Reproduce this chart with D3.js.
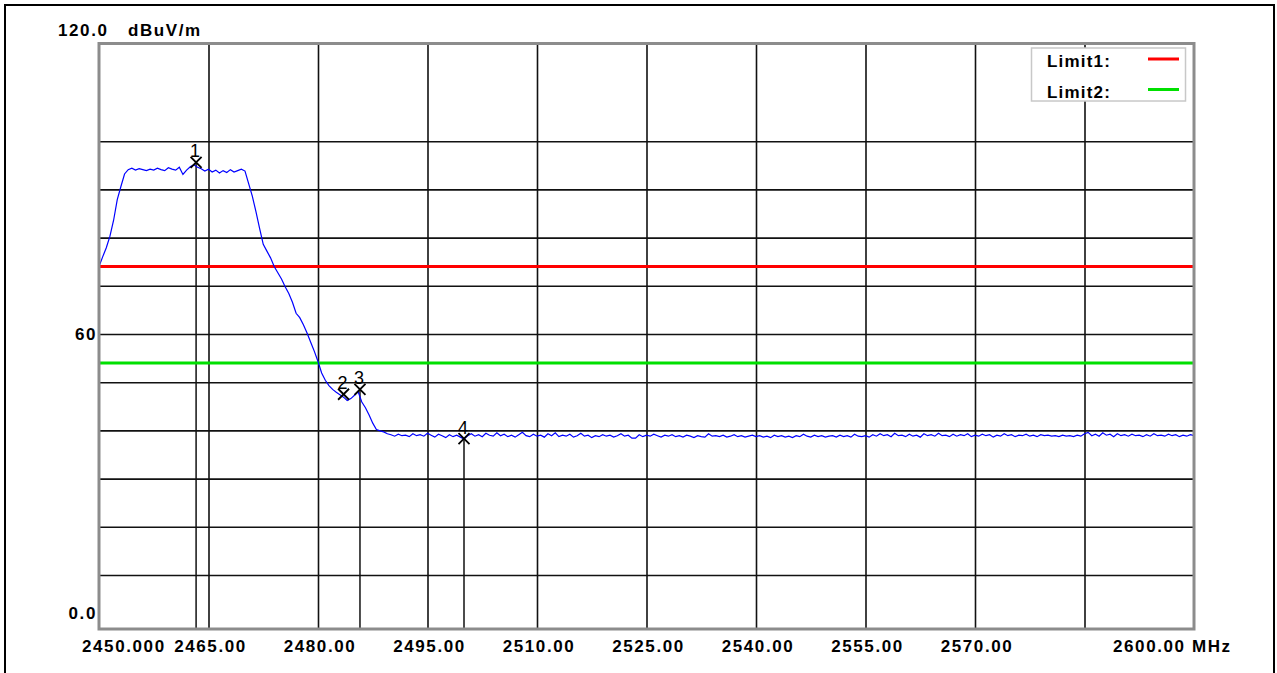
<!DOCTYPE html>
<html><head><meta charset="utf-8">
<script src="https://cdn.jsdelivr.net/npm/d3@7/dist/d3.min.js"></script>
<style>
body{margin:0;background:#fff}
svg{display:block}
text{font-family:"Liberation Sans",Arial,sans-serif;font-weight:bold;fill:#000}
</style>
</head><body>
<svg id="c" width="1277" height="673"></svg>
<script>
// ---------- data ----------
const xTicks = [2450,2465,2480,2495,2510,2525,2540,2555,2570,2585,2600];
const xTickLabels = ["2450.000","2465.00","2480.00","2495.00","2510.00","2525.00","2540.00","2555.00","2570.00","","2600.00 MHz"];
const yGrid = [10,20,30,40,50,60,70,80,90,100];
const yTickValues = [120,60,0];
const yTickLabels = ["120.0","60","0.0"];
const yUnit = "dBuV/m";
const limitNames = ["Limit1:","Limit2:"];
const limitValues = [74,54];
const limitColors = ["#ff0000","#00e000"];
const markerIds = ["1","2","3","4"];
const markerFreqs = [2463.3,2483.5,2485.75,2500.0];
const markerLevels = [95.6,47.5,48.5,38.3];
const markerHasLine = [true,false,true,true];
const trace = [
[2450,74.0],[2450.5,76.0],[2451,77.9],[2451.5,80.3],[2452,83.6],[2452.5,87.9],[2453,90.6],[2453.5,93.2],[2454,94.1],
[2454.5,94.4],[2455,94.0],[2455.5,94.3],[2456,94.1],[2456.5,93.9],[2457,94.2],[2457.5,94.0],[2458,94.4],[2458.5,94.1],
[2459,93.9],[2459.5,94.5],[2460,94.2],[2460.5,94.0],[2461,94.6],[2461.5,93.1],[2462,94.0],[2462.5,94.7],[2463,95.1],
[2463.5,94.6],[2464,94.3],[2464.5,93.8],[2465,94.2],[2465.5,93.6],[2466,94.0],[2466.5,93.4],[2467,93.9],[2467.5,93.5],
[2468,94.1],[2468.5,93.6],[2469,93.9],[2469.5,94.2],[2470,93.8],
[2470.5,91.2],[2471,88.6],[2471.5,85.4],[2472,81.9],[2472.5,78.6],[2473,77.2],[2473.5,75.8],[2474,74.0],[2474.5,72.7],
[2475,71.4],[2475.5,69.8],[2476,68.4],[2476.5,66.6],[2477,64.3],[2477.5,63.4],[2478,61.9],[2478.5,60.2],[2479,58.3],
[2479.5,56.4],[2480,54.3],[2480.5,51.9],[2481,50.4],[2481.5,49.3],[2482,48.5],[2482.5,47.9],[2483,47.4],[2483.5,46.9],
[2484,46.2],[2484.5,46.6],[2485,47.3],[2485.5,48.0],[2486,45.9],[2486.5,44.7],[2487,43.2],[2487.5,41.5],[2488,40.2],
[2488.5,39.9],[2489,39.7],
[2489.5,39.3],[2490,39.1],[2490.5,38.8],[2491,39.2],[2491.5,38.9],[2492,39.0],[2492.5,38.7],[2493,39.3],[2493.5,38.9],
[2494,39.1],[2494.5,38.8],[2495,39.4],[2495.5,39.0],[2496,38.6],[2496.5,39.2],[2497,38.9],[2497.5,38.5],[2498,39.1],
[2498.5,38.7],[2499,39.0],[2499.5,38.6],[2500,38.2],[2500.5,38.9],[2501,39.3],[2501.5,38.8],[2502,39.1],[2502.5,38.7],
[2503,39.4],[2503.5,39.0],[2504,38.8],[2504.5,39.5],[2505,38.9],[2505.5,39.2],[2506,38.7],[2506.5,39.0],[2507,38.6],
[2507.5,39.1],[2508,39.6],[2508.5,38.9],[2509,38.7],[2509.5,39.2],[2510,38.8],[2510.5,39.0],[2511,38.6],[2511.5,39.3],
[2512,38.9],[2512.5,39.5],[2513,38.7],[2513.5,39.0],[2514,38.8],[2514.5,39.2],[2515,38.6],[2515.5,38.9],[2516,39.4],
[2516.5,38.8],[2517,39.0],[2517.5,38.5],[2518,38.9],[2518.5,38.7],[2519,39.1],[2519.5,38.8],[2520,39.0],[2520.5,38.6],
[2521,38.9],[2521.5,39.3],[2522,38.8],[2522.5,39.0],[2523,38.4],[2523.5,38.4],[2524,39.1],[2524.5,38.7],[2525,39.0],
[2525.5,38.8],[2526,39.2],[2526.5,38.9],[2527,38.6],[2527.5,39.0],[2528,38.8],[2528.5,39.1],[2529,38.7],[2529.5,38.9],
[2530,38.6],[2530.5,39.0],[2531,38.8],[2531.5,38.5],[2532,38.9],[2532.5,38.7],[2533,38.6],[2533.5,39.3],[2534,38.8],
[2534.5,38.9],[2535,38.7],[2535.5,39.0],[2536,38.6],[2536.5,38.8],[2537,39.1],[2537.5,38.7],[2538,38.9],[2538.5,38.6],
[2539,38.8],[2539.5,39.0],[2540,38.7],[2540.5,38.9],[2541,38.6],[2541.5,38.8],[2542,38.5],[2542.5,39.0],[2543,38.7],
[2543.5,38.9],[2544,38.6],[2544.5,38.8],[2545,38.5],[2545.5,38.9],[2546,38.7],[2546.5,39.2],[2547,38.8],[2547.5,38.6],
[2548,39.0],[2548.5,38.7],[2549,38.9],[2549.5,38.6],[2550,38.8],[2550.5,38.9],[2551,38.6],[2551.5,39.0],[2552,38.7],
[2552.5,38.9],[2553,38.6],[2553.5,39.2],[2554,38.8],[2554.5,38.7],[2555,38.9],[2555.5,38.6],[2556,39.1],[2556.5,38.8],
[2557,39.3],[2557.5,38.9],[2558,39.1],[2558.5,38.7],[2559,39.4],[2559.5,38.9],[2560,39.0],[2560.5,38.7],[2561,39.2],
[2561.5,38.8],[2562,39.0],[2562.5,38.6],[2563,39.3],[2563.5,38.9],[2564,39.1],[2564.5,38.8],[2565,39.4],[2565.5,38.9],
[2566,39.0],[2566.5,38.7],[2567,39.2],[2567.5,38.8],[2568,39.1],[2568.5,38.9],[2569,39.3],[2569.5,38.7],[2570,39.0],
[2570.5,38.8],[2571,39.2],[2571.5,38.9],[2572,39.1],[2572.5,38.6],[2573,39.0],[2573.5,38.8],[2574,39.3],[2574.5,38.9],
[2575,39.1],[2575.5,38.7],[2576,39.0],[2576.5,38.9],[2577,39.2],[2577.5,38.8],[2578,39.0],[2578.5,38.7],[2579,39.1],
[2579.5,38.9],[2580,39.0],[2580.5,38.8],[2581,38.9],[2581.5,38.7],[2582,39.0],[2582.5,38.8],[2583,38.9],[2583.5,38.7],
[2584,39.0],[2584.5,38.8],[2585,39.3],[2585.5,39.6],[2586,38.9],[2586.5,39.2],[2587,38.8],[2587.5,39.5],[2588,39.0],
[2588.5,39.2],[2589,38.7],[2589.5,39.3],[2590,38.9],[2590.5,39.1],[2591,38.8],[2591.5,39.2],[2592,38.9],[2592.5,39.0],
[2593,38.7],[2593.5,39.1],[2594,38.8],[2594.5,39.3],[2595,38.9],[2595.5,39.0],[2596,38.8],[2596.5,39.2],[2597,38.9],
[2597.5,39.1],[2598,38.7],[2598.5,39.0],[2599,38.8],[2599.5,39.1],[2600,38.9]
];

// ---------- layout ----------
const svg = d3.select("#c");
const L = 99, R = 1194, T = 43.5, B = 629;
const x = d3.scaleLinear().domain([2450,2600]).range([L,R]);
const y = d3.scaleLinear().domain([0,120]).range([623.2,44.8]);

// outer frame
svg.append("rect").attr("x",5).attr("y",5).attr("width",1269).attr("height",700)
  .attr("fill","#fff").attr("stroke","#000").attr("stroke-width",2);

// plot background
svg.append("rect").attr("x",L).attr("y",T).attr("width",R-L).attr("height",B-T).attr("fill","#fff");

// vertical grid via axis
const gx = svg.append("g").attr("transform",`translate(0,${B})`)
  .call(d3.axisBottom(x).tickValues(xTicks.slice(1,-1)).tickSize(-(B-T)).tickFormat(""));
gx.select(".domain").remove();
gx.selectAll("line").attr("stroke","#111").attr("stroke-width",1.6);

// horizontal grid via axis
const gy = svg.append("g").attr("transform",`translate(${L},0)`)
  .call(d3.axisLeft(y).tickValues(yGrid).tickSize(-(R-L)).tickFormat(""));
gy.select(".domain").remove();
gy.selectAll("line").attr("stroke","#111").attr("stroke-width",1.6);

// marker vertical lines
markerIds.forEach((id,i)=>{
  if(!markerHasLine[i]) return;
  svg.append("line").attr("x1",x(markerFreqs[i])).attr("x2",x(markerFreqs[i]))
    .attr("y1",y(markerLevels[i])).attr("y2",B)
    .attr("stroke","#111").attr("stroke-width",1.5);
});

// limit lines
limitValues.forEach((v,i)=>{
  svg.append("line").attr("x1",L).attr("x2",R).attr("y1",y(v)).attr("y2",y(v))
    .attr("stroke",limitColors[i]).attr("stroke-width",3);
});

// trace
svg.append("path").datum(trace)
  .attr("d",d3.line().x(d=>x(d[0])).y(d=>y(d[1])))
  .attr("fill","none").attr("stroke","#0000ff").attr("stroke-width",1.2);

// markers
markerIds.forEach((id,i)=>{
  const cx = x(markerFreqs[i]), cy = y(markerLevels[i]), s = 5.5;
  const g = svg.append("g");
  g.append("line").attr("x1",cx-s).attr("y1",cy-s).attr("x2",cx+s).attr("y2",cy+s)
    .attr("stroke","#000").attr("stroke-width",1.8);
  g.append("line").attr("x1",cx-s).attr("y1",cy+s).attr("x2",cx+s).attr("y2",cy-s)
    .attr("stroke","#000").attr("stroke-width",1.8);
  g.append("text").attr("x",cx-1).attr("y",cy-5).attr("text-anchor","middle")
    .style("font-weight","normal").style("font-size","18px").text(id);
});

// plot border
svg.append("rect").attr("x",L).attr("y",T).attr("width",R-L).attr("height",B-T)
  .attr("fill","none").attr("stroke","#8c8c8c").attr("stroke-width",3);

// x labels
const xl = svg.append("g").style("font-size","17px").style("letter-spacing","1.6px");
xTicks.forEach((t,i)=>{
  const lab = xTickLabels[i];
  if(!lab) return;
  const txt = xl.append("text").attr("y",652).text(lab);
  if(i===0){ txt.attr("x",x(t)-17).attr("text-anchor","start"); }
  else if(i===xTicks.length-1){ txt.attr("x",x(t)-81).attr("text-anchor","start"); }
  else { txt.attr("x",x(t)+2).attr("text-anchor","middle"); }
});

// y labels
const yl = svg.append("g").style("font-size","17px").style("letter-spacing","1.6px");
yTickValues.forEach((v,i)=>{
  if(i===0){
    yl.append("text").attr("x",58).attr("y",36).attr("text-anchor","start").text(yTickLabels[i]);
    yl.append("text").attr("x",128).attr("y",36).attr("text-anchor","start").text(yUnit);
  } else if(v===0){
    yl.append("text").attr("x",97).attr("y",619).attr("text-anchor","end").text(yTickLabels[i]);
  } else {
    yl.append("text").attr("x",97).attr("y",y(v)+6).attr("text-anchor","end").text(yTickLabels[i]);
  }
});

// legend
const lg = svg.append("g");
lg.append("rect").attr("x",1031.5).attr("y",48).attr("width",154).attr("height",53)
  .attr("fill","#fff").attr("stroke","#c8c8c8").attr("stroke-width",1.5);
limitNames.forEach((n,i)=>{
  const ly = 59 + i*30.5;
  lg.append("text").attr("x",1047).attr("y",ly+8).style("font-size","17px")
    .style("letter-spacing","1.2px").text(n);
  lg.append("line").attr("x1",1148).attr("x2",1179).attr("y1",ly).attr("y2",ly)
    .attr("stroke",limitColors[i]).attr("stroke-width",3);
});
</script>
</body></html>
